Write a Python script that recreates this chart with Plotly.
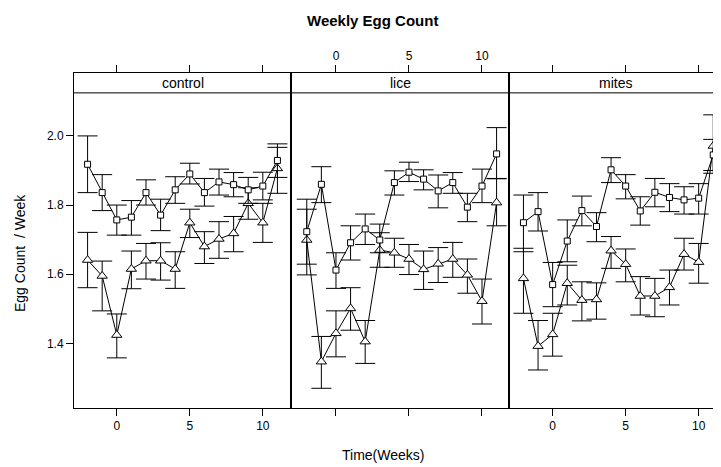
import plotly.graph_objects as go

weeks = list(range(-2, 12))
panels = ["control", "lice", "mites"]

control_sq = [1.918, 1.836, 1.757, 1.765, 1.836, 1.771, 1.844, 1.890, 1.836, 1.867, 1.859, 1.844, 1.855, 1.929]
control_sq_hi = [2.000, 1.888, 1.800, 1.813, 1.873, 1.817, 1.882, 1.921, 1.877, 1.904, 1.894, 1.880, 1.895, 1.977]
control_sq_lo = [1.836, 1.784, 1.713, 1.713, 1.800, 1.726, 1.805, 1.861, 1.797, 1.829, 1.824, 1.805, 1.815, 1.880]
control_tri = [1.641, 1.595, 1.424, 1.615, 1.639, 1.639, 1.615, 1.749, 1.680, 1.702, 1.718, 1.805, 1.749, 1.906]
control_tri_hi = [1.721, 1.638, 1.485, 1.667, 1.689, 1.691, 1.665, 1.788, 1.723, 1.752, 1.767, 1.850, 1.805, 1.967]
control_tri_lo = [1.561, 1.494, 1.358, 1.558, 1.586, 1.583, 1.559, 1.706, 1.631, 1.646, 1.665, 1.759, 1.692, 1.834]

lice_sq = [1.723, 1.860, 1.612, 1.691, 1.731, 1.699, 1.865, 1.895, 1.875, 1.841, 1.865, 1.794, 1.855, 1.948]
lice_sq_hi = [1.817, 1.911, 1.662, 1.740, 1.774, 1.745, 1.899, 1.924, 1.902, 1.887, 1.894, 1.834, 1.904, 2.024]
lice_sq_lo = [1.629, 1.807, 1.559, 1.641, 1.686, 1.662, 1.829, 1.868, 1.844, 1.792, 1.834, 1.752, 1.807, 1.877]
lice_tri = [1.699, 1.347, 1.429, 1.501, 1.405, 1.670, 1.662, 1.644, 1.614, 1.630, 1.644, 1.598, 1.522, 1.807]
lice_tri_hi = [1.788, 1.420, 1.494, 1.561, 1.466, 1.720, 1.704, 1.686, 1.667, 1.677, 1.692, 1.644, 1.586, 1.876]
lice_tri_lo = [1.598, 1.270, 1.361, 1.438, 1.342, 1.620, 1.620, 1.599, 1.556, 1.576, 1.591, 1.545, 1.456, 1.740]

mites_sq = [1.749, 1.781, 1.570, 1.696, 1.784, 1.738, 1.902, 1.855, 1.783, 1.837, 1.822, 1.815, 1.820, 1.945]
mites_sq_hi = [1.829, 1.836, 1.634, 1.757, 1.826, 1.778, 1.937, 1.888, 1.824, 1.877, 1.862, 1.853, 1.862, 1.990]
mites_sq_lo = [1.665, 1.725, 1.506, 1.636, 1.740, 1.694, 1.865, 1.818, 1.742, 1.795, 1.781, 1.774, 1.774, 1.900]
mites_tri = [1.588, 1.392, 1.426, 1.574, 1.525, 1.527, 1.668, 1.629, 1.537, 1.537, 1.562, 1.658, 1.635, 1.971]
mites_tri_hi = [1.675, 1.466, 1.487, 1.626, 1.578, 1.575, 1.709, 1.673, 1.593, 1.588, 1.612, 1.704, 1.689, 2.061]
mites_tri_lo = [1.487, 1.323, 1.363, 1.511, 1.465, 1.470, 1.617, 1.578, 1.482, 1.477, 1.511, 1.612, 1.574, 1.892]

x_ticks = [0, 5, 10]
y_ticks = [1.4, 1.6, 1.8, 2.0]
y_tick_text = ["1.4", "1.6", "1.8", "2.0"]

series = [
    (control_sq, control_sq_hi, control_sq_lo, control_tri, control_tri_hi, control_tri_lo),
    (lice_sq, lice_sq_hi, lice_sq_lo, lice_tri, lice_tri_hi, lice_tri_lo),
    (mites_sq, mites_sq_hi, mites_sq_lo, mites_tri, mites_tri_hi, mites_tri_lo),
]

FONT = "Liberation Sans, Arial, sans-serif"
OFF = 8  # page body margin offset
W, H = 721 - OFF, 467 - OFF
ML, MT = 74 - OFF, 73 - OFF
MR = 0
MB = H - (408 - OFF)
PW = W - ML - MR
PH = H - MT - MB
px = lambda p: (p - OFF - ML) / PW
py = lambda p: 1 - (p - OFF - MT) / PH

dom_px = [(74, 291), (291, 509), (509, 721)]
xranges = [[-2.93, 11.93], [-3.08, 11.85], [-2.99, 11.53]]
YR = [1.213, 2.182]
STRIP_LO = 2.1245

fig = go.Figure()
for i, (sq, sqh, sql, tr, trh, trl) in enumerate(series):
    xa = "x" if i == 0 else f"x{i+1}"
    ya = "y" if i == 0 else f"y{i+1}"
    for vals, hi, lo, sym, size in [(tr, trh, trl, "triangle-up", 9), (sq, sqh, sql, "square", 6)]:
        fig.add_trace(go.Scatter(
            x=weeks, y=vals, xaxis=xa, yaxis=ya, mode="lines+markers",
            line=dict(color="black", width=1),
            marker=dict(symbol=sym, size=size, color="white", line=dict(color="black", width=1)),
            error_y=dict(type="data", symmetric=False,
                         array=[h - v for h, v in zip(hi, vals)],
                         arrayminus=[v - l for l, v in zip(lo, vals)],
                         color="black", thickness=1, width=10),
            showlegend=False, hoverinfo="skip", cliponaxis=False,
        ))

for i in range(3):
    sfx = "" if i == 0 else str(i + 1)
    d0, d1 = dom_px[i]
    fig.layout["xaxis" + sfx] = dict(
        domain=[px(d0), min(1, px(d1))], range=xranges[i], anchor="y" + sfx, automargin=False,
        tickvals=x_ticks, ticktext=[str(t) for t in x_ticks],
        showticklabels=True, side="top" if i == 1 else "bottom",
        ticks="outside", ticklen=7, tickwidth=1, tickcolor="black",
        showline=True, linecolor="black", linewidth=1, mirror="ticks",
        showgrid=False, zeroline=False,
        tickfont=dict(family=FONT, size=12, color="black"),
    )
    fig.layout["yaxis" + sfx] = dict(
        domain=[0, 1], range=YR, anchor="x" + sfx, automargin=False,
        tickvals=y_ticks, ticktext=y_tick_text,
        showticklabels=(i == 0), ticks="outside" if i == 0 else "",
        ticklen=7, tickwidth=1, tickcolor="black",
        showline=True, linecolor="black", linewidth=1, mirror=(i < 2),
        showgrid=False, zeroline=False,
        tickfont=dict(family=FONT, size=12, color="black"),
    )
    xr = "x" + sfx
    yr = "y" + sfx
    fig.add_shape(type="line", xref=xr + " domain", yref=yr, x0=0, x1=1, y0=STRIP_LO, y1=STRIP_LO,
                  line=dict(color="black", width=1))
    fig.add_annotation(text=panels[i], xref=xr + " domain", yref=yr, x=0.5,
                       y=(STRIP_LO + YR[1]) / 2, showarrow=False, yanchor="middle", xanchor="center",
                       font=dict(family=FONT, size=14, color="black"))

fig.add_annotation(text="<b>Weekly Egg Count</b>", xref="paper", yref="paper",
                   x=px(372), y=py(20), showarrow=False, xanchor="center", yanchor="middle",
                   font=dict(family=FONT, size=15, color="black"))
fig.add_annotation(text="Egg Count  / Week", xref="paper", yref="paper",
                   x=px(20), y=py(253), showarrow=False, textangle=-90,
                   xanchor="center", yanchor="middle",
                   font=dict(family=FONT, size=14, color="black"))
fig.add_annotation(text="Time(Weeks)", xref="paper", yref="paper",
                   x=px(383), y=py(455), showarrow=False, xanchor="center", yanchor="middle",
                   font=dict(family=FONT, size=14, color="black"))

fig.update_layout(width=W, height=H, margin=dict(l=ML, r=MR, t=MT, b=MB, autoexpand=False),
                  paper_bgcolor="white", plot_bgcolor="white")
fig.write_html("out.html")
